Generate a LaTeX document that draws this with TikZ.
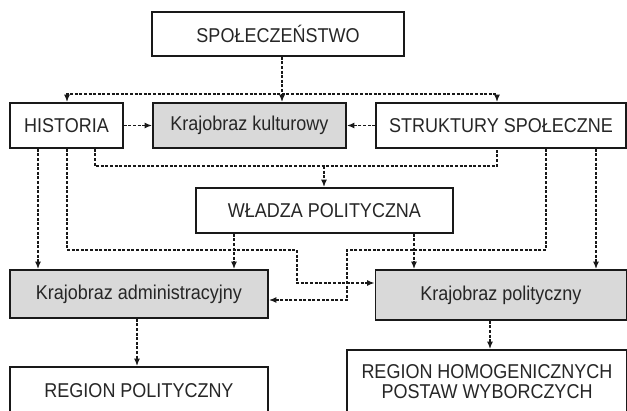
\documentclass[tikz,border=0pt]{standalone}
\usepackage{fontspec}
\setmainfont{Liberation Sans}[FakeStretch=0.9]
\usetikzlibrary{arrows.meta,calc}
\begin{document}
\begin{tikzpicture}[x=1pt,y=-1pt,
  box/.style={draw=black!90,line width=1.7pt,fill=white,inner sep=0pt,align=center,
    font=\fontsize{20}{22}\selectfont,text=black!85},
  gbox/.style={box,fill=black!15},
  dl/.style={draw=black!90,line width=1.6pt,dash pattern=on 3pt off 1.6pt},
  tip/.style={-{Latex[length=7.5pt,width=6pt]}},
  tips/.style={{Latex[length=7.5pt,width=6pt]}-{Latex[length=7.5pt,width=6pt]}}]
\useasboundingbox (0,0) rectangle (627,411);
% nodes
\node[box,minimum width=252pt,minimum height=44pt] (spo) at (278,34) {SPOŁECZEŃSTWO};
\node[box,minimum width=113pt,minimum height=45pt] (his) at (66.5,125.5) {HISTORIA};
\node[gbox,minimum width=193pt,minimum height=45pt] (kul) at (249.5,125.5) {Krajobraz kulturowy};
\node[box,minimum width=250pt,minimum height=45pt] (str) at (501,125.5) {STRUKTURY SPOŁECZNE};
\node[box,minimum width=257pt,minimum height=45pt] (wla) at (324.5,210.5) {WŁADZA POLITYCZNA};
\node[gbox,minimum width=258pt,minimum height=48pt] (adm) at (139,294) {Krajobraz administracyjny};
\node[gbox,minimum width=251pt,minimum height=50pt] (pol) at (501,295) {Krajobraz polityczny};
\node[box,minimum width=258pt,minimum height=48pt] (rpol) at (139,391) {REGION POLITYCZNY};
\node[box,minimum width=280pt,minimum height=64pt] (hom) at (487,382) {REGION HOMOGENICZNYCH\\[-2pt]POSTAW WYBORCZYCH};
% guide coordinates
\coordinate (x38) at (38,0);
\coordinate (x67) at (67,0);
\coordinate (x95) at (95,0);
\coordinate (x137) at (137,0);
\coordinate (x234) at (234,0);
\coordinate (x282) at (282,0);
\coordinate (x297) at (297,0);
\coordinate (x324) at (324,0);
\coordinate (x347) at (347,0);
\coordinate (x414) at (414,0);
\coordinate (x490) at (490,0);
\coordinate (x497) at (497,0);
\coordinate (x546) at (546,0);
\coordinate (x596) at (596,0);
\coordinate (y94) at (0,94);
\coordinate (y166) at (0,166);
\coordinate (y250) at (0,250);
\coordinate (y283) at (0,283);
\coordinate (y300) at (0,300);
% connectors
\draw[dl,tip] (spo.south -| x282) -- (kul.north -| x282);
\draw[dl,tips] (his.north -| x67) -- (x67 |- y94) -- (x497 |- y94) -- (str.north -| x497);
\draw[dl,tip] (his) -- (kul);
\draw[dl,tip] (str) -- (kul);
\draw[dl] (his.south -| x95) -- (x95 |- y166) -- (x497 |- y166) -- (str.south -| x497);
\draw[dl,tip] (x324 |- y166) -- (wla.north -| x324);
\draw[dl,tip] (his.south -| x38) -- (adm.north -| x38);
\draw[dl,tip] (wla.south -| x234) -- (adm.north -| x234);
\draw[dl,tip] (wla.south -| x414) -- (pol.north -| x414);
\draw[dl,tip] (his.south -| x67) -- (x67 |- y250) -- (x297 |- y250) -- (x297 |- y283) -- (pol.west |- y283);
\draw[dl,tip] (str.south -| x546) -- (x546 |- y250) -- (x347 |- y250) -- (x347 |- y300) -- (adm.east |- y300);
\draw[dl,tip] (str.south -| x596) -- (pol.north -| x596);
\draw[dl,tip] (adm.south -| x137) -- (rpol.north -| x137);
\draw[dl,tip] (pol.south -| x490) -- (hom.north -| x490);
\end{tikzpicture}
\end{document}
